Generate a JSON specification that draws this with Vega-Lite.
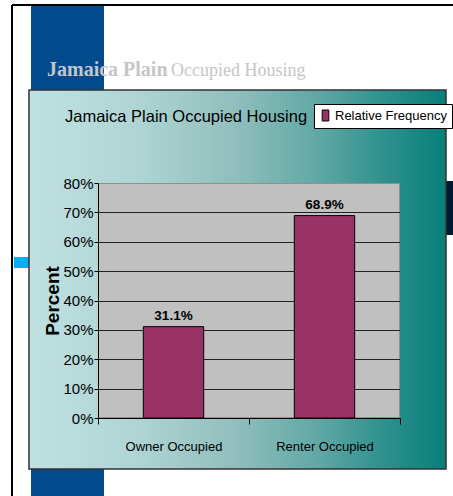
{
  "$schema": "https://vega.github.io/schema/vega-lite/v6.json",
  "width": 302,
  "height": 235,
  "autosize": {"type": "none"},
  "padding": {"left": 98, "top": 183, "right": 53, "bottom": 78},
  "background": "white",
  "config": {
    "view": {"fill": "#c0c0c0", "stroke": "#808080", "strokeWidth": 1.5},
    "font": "Liberation Sans"
  },
  "data": {"values": [
    {"category": "Owner Occupied", "series": "Relative Frequency", "value": 0.311},
    {"category": "Renter Occupied", "series": "Relative Frequency", "value": 0.689}
  ]},
  "resolve": {"scale": {"x": "independent", "y": "independent"}},
  "layer": [
    {
      "data": {"values": [{}]},
      "mark": {"type": "rule", "stroke": "black", "strokeWidth": 2},
      "encoding": {
        "x": {"datum": -0.5695, "type": "quantitative", "scale": {"domain": [0, 2], "nice": false, "zero": false}, "axis": null},
        "y": {"datum": 1.406, "type": "quantitative", "scale": {"domain": [0, 0.8], "nice": false, "zero": false}, "axis": null},
        "y2": {"datum": -0.27}
      }
    },
    {
      "data": {"values": [{}]},
      "mark": {"type": "rule", "stroke": "black", "strokeWidth": 2},
      "encoding": {
        "x": {"datum": -0.5695, "type": "quantitative", "scale": {"domain": [0, 2], "nice": false, "zero": false}, "axis": null},
        "x2": {"datum": 2.36},
        "y": {"datum": 1.406, "type": "quantitative", "scale": {"domain": [0, 0.8], "nice": false, "zero": false}, "axis": null}
      }
    },
    {
      "data": {"values": [{}]},
      "mark": {"type": "rect", "fill": "#034a8d"},
      "encoding": {
        "x": {"datum": -0.4437, "type": "quantitative", "scale": {"domain": [0, 2], "nice": false, "zero": false}, "axis": null},
        "x2": {"datum": 0.0397},
        "y": {"datum": 1.4025, "type": "quantitative", "scale": {"domain": [0, 0.8], "nice": false, "zero": false}, "axis": null},
        "y2": {"datum": 1.11}
      }
    },
    {
      "data": {"values": [{}]},
      "mark": {"type": "rect", "fill": "#034a8d"},
      "encoding": {
        "x": {"datum": -0.4437, "type": "quantitative", "scale": {"domain": [0, 2], "nice": false, "zero": false}, "axis": null},
        "x2": {"datum": 0.0397},
        "y": {"datum": -0.17, "type": "quantitative", "scale": {"domain": [0, 0.8], "nice": false, "zero": false}, "axis": null},
        "y2": {"datum": -0.27}
      }
    },
    {
      "data": {"values": [{}]},
      "mark": {"type": "rect", "fill": "#00b0f0"},
      "encoding": {
        "x": {"datum": -0.5563, "type": "quantitative", "scale": {"domain": [0, 2], "nice": false, "zero": false}, "axis": null},
        "x2": {"datum": -0.457},
        "y": {"datum": 0.5481, "type": "quantitative", "scale": {"domain": [0, 0.8], "nice": false, "zero": false}, "axis": null},
        "y2": {"datum": 0.5106}
      }
    },
    {
      "data": {"values": [{}]},
      "mark": {"type": "rect", "fill": "#021a30"},
      "encoding": {
        "x": {"datum": 2.3046, "type": "quantitative", "scale": {"domain": [0, 2], "nice": false, "zero": false}, "axis": null},
        "x2": {"datum": 2.36},
        "y": {"datum": 0.8068, "type": "quantitative", "scale": {"domain": [0, 0.8], "nice": false, "zero": false}, "axis": null},
        "y2": {"datum": 0.623}
      }
    },
    {
      "data": {"values": [{}]},
      "mark": {"type": "rect", "fill": {"gradient": "linear", "x1": 0, "y1": 0, "x2": 1, "y2": 0, "stops": [
        {"offset": 0, "color": "#c0e1e2"},
        {"offset": 0.25, "color": "#b0d5d5"},
        {"offset": 0.5, "color": "#8fbebc"},
        {"offset": 0.7, "color": "#5ea7a4"},
        {"offset": 0.85, "color": "#2f918d"},
        {"offset": 1, "color": "#077f7a"}]}},
      "encoding": {
        "x": {"datum": -0.457, "type": "quantitative", "scale": {"domain": [0, 2], "nice": false, "zero": false}, "axis": null},
        "x2": {"datum": 2.3046},
        "y": {"datum": 1.1166, "type": "quantitative", "scale": {"domain": [0, 0.8], "nice": false, "zero": false}, "axis": null},
        "y2": {"datum": 0.8}
      }
    },
    {
      "data": {"values": [{}]},
      "mark": {"type": "rect", "fill": {"gradient": "linear", "x1": 0, "y1": 0, "x2": 1, "y2": 0, "stops": [
        {"offset": 0, "color": "#c0e1e2"},
        {"offset": 0.25, "color": "#b0d5d5"},
        {"offset": 0.5, "color": "#8fbebc"},
        {"offset": 0.7, "color": "#5ea7a4"},
        {"offset": 0.85, "color": "#2f918d"},
        {"offset": 1, "color": "#077f7a"}]}},
      "encoding": {
        "x": {"datum": -0.457, "type": "quantitative", "scale": {"domain": [0, 2], "nice": false, "zero": false}, "axis": null},
        "x2": {"datum": 2.3046},
        "y": {"datum": 0, "type": "quantitative", "scale": {"domain": [0, 0.8], "nice": false, "zero": false}, "axis": null},
        "y2": {"datum": -0.1736}
      }
    },
    {
      "data": {"values": [{}]},
      "mark": {"type": "rect", "fill": {"gradient": "linear", "x1": 0, "y1": 0, "x2": 1, "y2": 0, "stops": [
        {"offset": 0, "color": "#c0e1e2"},
        {"offset": 1, "color": "#b5d8d9"}]}},
      "encoding": {
        "x": {"datum": -0.457, "type": "quantitative", "scale": {"domain": [0, 2], "nice": false, "zero": false}, "axis": null},
        "x2": {"datum": 0},
        "y": {"datum": 0.8, "type": "quantitative", "scale": {"domain": [0, 0.8], "nice": false, "zero": false}, "axis": null},
        "y2": {"datum": 0}
      }
    },
    {
      "data": {"values": [{}]},
      "mark": {"type": "rect", "fill": {"gradient": "linear", "x1": 0, "y1": 0, "x2": 1, "y2": 0, "stops": [
        {"offset": 0, "color": "#248c88"},
        {"offset": 1, "color": "#077f7a"}]}},
      "encoding": {
        "x": {"datum": 2, "type": "quantitative", "scale": {"domain": [0, 2], "nice": false, "zero": false}, "axis": null},
        "x2": {"datum": 2.3046},
        "y": {"datum": 0.8, "type": "quantitative", "scale": {"domain": [0, 0.8], "nice": false, "zero": false}, "axis": null},
        "y2": {"datum": 0}
      }
    },
    {
      "data": {"values": [{}]},
      "mark": {"type": "rect", "fill": null, "fillOpacity": 0, "stroke": "#333333", "strokeWidth": 1.5},
      "encoding": {
        "x": {"datum": -0.457, "type": "quantitative", "scale": {"domain": [0, 2], "nice": false, "zero": false}, "axis": null},
        "x2": {"datum": 2.3046},
        "y": {"datum": 1.1166, "type": "quantitative", "scale": {"domain": [0, 0.8], "nice": false, "zero": false}, "axis": null},
        "y2": {"datum": -0.1736}
      }
    },
    {
      "data": {"values": [{}]},
      "mark": {"type": "text", "text": "Jamaica Plain", "font": "Liberation Serif", "fontWeight": "bold", "fontSize": 20, "fill": "#c6c6c6", "align": "left", "baseline": "alphabetic"},
      "encoding": {
        "x": {"datum": -0.3377, "type": "quantitative", "scale": {"domain": [0, 2], "nice": false, "zero": false}, "axis": null},
        "y": {"datum": 1.1643, "type": "quantitative", "scale": {"domain": [0, 0.8], "nice": false, "zero": false}, "axis": null}
      }
    },
    {
      "data": {"values": [{}]},
      "mark": {"type": "text", "text": "Occupied Housing", "font": "Liberation Serif", "fontSize": 18, "fill": "#c6c6c6", "align": "left", "baseline": "alphabetic"},
      "encoding": {
        "x": {"datum": 0.4834, "type": "quantitative", "scale": {"domain": [0, 2], "nice": false, "zero": false}, "axis": null},
        "y": {"datum": 1.1643, "type": "quantitative", "scale": {"domain": [0, 0.8], "nice": false, "zero": false}, "axis": null}
      }
    },
    {
      "data": {"values": [{}]},
      "mark": {"type": "text", "text": "Jamaica Plain Occupied Housing", "font": "Liberation Sans", "fontSize": 16.5, "fill": "black", "align": "left", "baseline": "alphabetic"},
      "encoding": {
        "x": {"datum": -0.2185, "type": "quantitative", "scale": {"domain": [0, 2], "nice": false, "zero": false}, "axis": null},
        "y": {"datum": 1.0077, "type": "quantitative", "scale": {"domain": [0, 0.8], "nice": false, "zero": false}, "axis": null}
      }
    },
    {
      "mark": {"type": "bar", "stroke": "black", "strokeWidth": 1, "width": {"band": 0.4}},
      "encoding": {
        "x": {"field": "category", "type": "nominal", "sort": null, "scale": {"paddingInner": 0, "paddingOuter": 0},
          "axis": {"orient": "bottom", "title": null, "labelAngle": 0, "tickBand": "extent", "tickSize": 6, "tickColor": "black", "domainColor": "black", "labelFont": "Liberation Sans", "labelFontSize": 13, "labelColor": "black", "labelPadding": 16, "zindex": 1}},
        "y": {"field": "value", "type": "quantitative", "scale": {"domain": [0, 0.8], "nice": false, "zero": false},
          "axis": {"orient": "left", "grid": true, "gridColor": "#222222", "gridWidth": 1, "values": [0.1, 0.2, 0.3, 0.4, 0.5, 0.6, 0.7], "labels": false, "ticks": false, "domain": false, "title": null, "zindex": 0}},
        "color": {"field": "series", "type": "nominal", "scale": {"range": ["#993366"]},
          "legend": {"title": null, "orient": "none", "legendX": 216, "legendY": -79, "fillColor": "white", "strokeColor": "black", "padding": 5, "symbolType": "M-0.6,-1H0.6V1H-0.6Z", "symbolSize": 121, "symbolStrokeColor": "black", "symbolStrokeWidth": 1, "labelFont": "Liberation Sans", "labelFontSize": 13, "labelColor": "black", "labelOffset": 3, "zindex": 1}}
      }
    },
    {
      "mark": {"type": "text", "fontWeight": "bold", "fontSize": 13.5, "dy": -7, "baseline": "alphabetic", "font": "Liberation Sans", "fill": "black"},
      "encoding": {
        "x": {"field": "category", "type": "nominal", "sort": null, "scale": {"paddingInner": 0, "paddingOuter": 0}, "axis": null},
        "y": {"field": "value", "type": "quantitative", "scale": {"domain": [0, 0.8], "nice": false, "zero": false},
          "axis": {"orient": "left", "values": [0, 0.1, 0.2, 0.3, 0.4, 0.5, 0.6, 0.7, 0.8], "format": ".0%", "grid": false, "domainColor": "black", "tickColor": "black", "tickSize": 4, "labelPadding": 1, "labelFont": "Liberation Sans", "labelFontSize": 15, "labelColor": "black", "title": "Percent", "titleFont": "Liberation Sans", "titleFontSize": 19, "titleFontWeight": "bold", "titleColor": "black", "titlePadding": 0, "zindex": 1}},
        "text": {"field": "value", "type": "quantitative", "format": ".1%"}
      }
    }
  ]
}
